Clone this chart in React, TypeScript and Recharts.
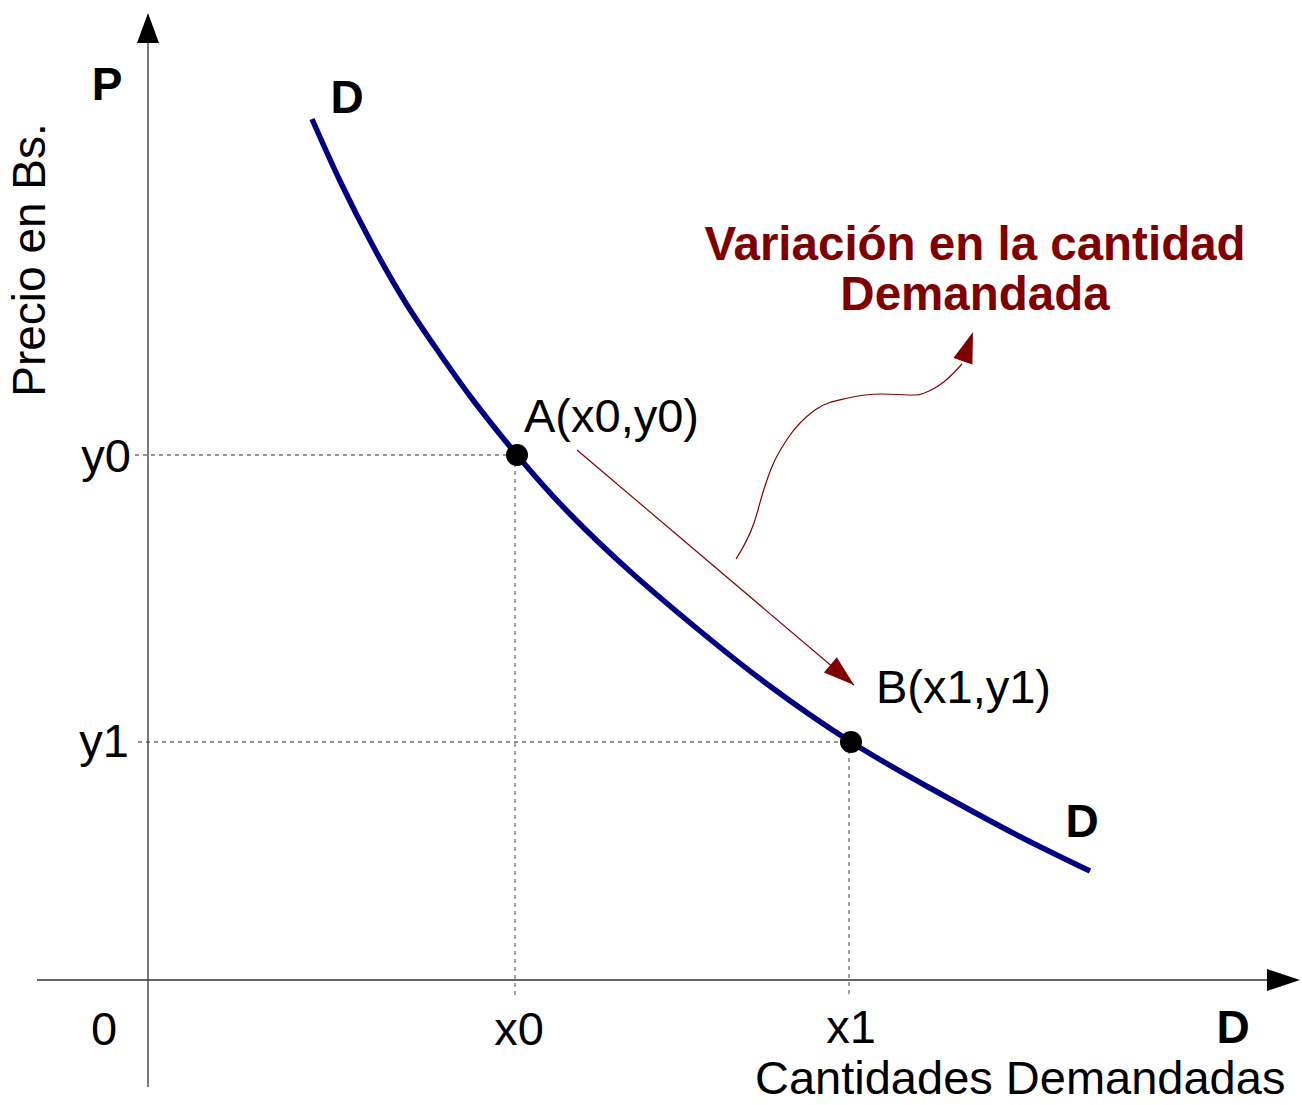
import { ComposedChart, Line, Scatter, ReferenceLine, XAxis, YAxis } from "recharts";

// quantity (q) and price (p) units; both axes use the same px per unit
const demandCurve = [
  { q: 16.4, p: 86.1 },
  { q: 19.2, p: 79.9 },
  { q: 22.5, p: 73.4 },
  { q: 25.9, p: 67.5 },
  { q: 29.2, p: 62.6 },
  { q: 32.5, p: 58.0 },
  { q: 36.9, p: 52.5 },
  { q: 41.9, p: 46.9 },
  { q: 48.5, p: 40.6 },
  { q: 55.2, p: 34.9 },
  { q: 61.9, p: 29.6 },
  { q: 70.3, p: 23.8 },
  { q: 78.2, p: 19.2 },
  { q: 86.5, p: 14.7 },
  { q: 94.2, p: 10.9 },
];

const pointA = { q: 36.9, p: 52.5 };
const pointB = { q: 70.3, p: 23.8 };
const points = [pointA, pointB];

const moveArrow = [
  { q: 42.9, p: 53.0 },
  { q: 70.6, p: 29.5 },
];

const noteArrow = [
  { q: 58.8, p: 42.1 },
  { q: 60.6, p: 45.7 },
  { q: 61.6, p: 49.1 },
  { q: 62.3, p: 51.1 },
  { q: 64.0, p: 54.2 },
  { q: 66.7, p: 57.0 },
  { q: 70.0, p: 58.2 },
  { q: 73.4, p: 58.6 },
  { q: 76.8, p: 58.5 },
  { q: 78.5, p: 59.1 },
  { q: 79.7, p: 59.9 },
  { q: 81.4, p: 61.6 },
];
const noteArrowTip = { q: 82.5, p: 64.8 };

const qAxis = { from: -11.1, to: 115.2 };
const pAxis = { from: -10.7, to: 96.7 };

const labels = [
  { q: -4.1, p: 88.0, text: "P", kind: "bold" },
  { q: 19.9, p: 86.7, text: "D", kind: "bold" },
  { q: 93.4, p: 14.3, text: "D", kind: "bold" },
  { q: 108.5, p: -6.3, text: "D", kind: "bold" },
  { q: -4.4, p: -6.5, text: "0", kind: "tick" },
  { q: 37.1, p: -6.5, text: "x0", kind: "tick" },
  { q: 70.3, p: -6.3, text: "x1", kind: "tick" },
  { q: -1.7, p: 50.8, text: "y0", kind: "yTick" },
  { q: -1.9, p: 22.3, text: "y1", kind: "yTick" },
  { q: 37.6, p: 54.8, text: "A(x0,y0)", kind: "point" },
  { q: 72.8, p: 27.7, text: "B(x1,y1)", kind: "point" },
  { q: -10.3, p: 72.0, text: "Precio en Bs.", kind: "yTitle" },
  { q: 60.7, p: -11.4, text: "Cantidades Demandadas", kind: "point" },
  { q: 82.7, p: 72.0, text: "Variación en la cantidad", kind: "note" },
  { q: 82.7, p: 67.0, text: "Demandada", kind: "note" },
];

const FONT = "'Liberation Sans', Arial, sans-serif";
const DARK_RED = "#800000";
const NAVY = "#000080";

const labelStyles: Record<string, any> = {
  bold: { fontSize: 46, fontWeight: 700, fill: "#000", anchor: "middle" },
  tick: { fontSize: 47, fontWeight: 400, fill: "#000", anchor: "middle" },
  yTick: { fontSize: 47, fontWeight: 400, fill: "#000", anchor: "end" },
  point: { fontSize: 47, fontWeight: 400, fill: "#000", anchor: "start" },
  yTitle: { fontSize: 46, fontWeight: 400, fill: "#000", anchor: "middle", rotate: -90 },
  note: { fontSize: 47.5, fontWeight: 700, fill: DARK_RED, anchor: "middle" },
};

function angleOf(from: { q: number; p: number }, to: { q: number; p: number }) {
  return Math.atan2(-(to.p - from.p), to.q - from.q);
}

const arrowHeads = [
  { q: 0, p: pAxis.to, angle: -Math.PI / 2, len: 30, half: 11, color: "#000" },
  { q: qAxis.to, p: 0, angle: 0, len: 33, half: 11, color: "#000" },
  { ...moveArrow[1], angle: angleOf(moveArrow[0], moveArrow[1]), len: 31, half: 10, color: DARK_RED },
  {
    ...noteArrowTip,
    angle: angleOf(noteArrow[noteArrow.length - 1], noteArrowTip),
    len: 31,
    half: 10,
    color: DARK_RED,
  },
];

function ArrowHead(props: any) {
  const { cx, cy, payload } = props;
  if (cx == null || cy == null) return null;
  const { angle, len, half, color } = payload;
  const bx = cx - len * Math.cos(angle);
  const by = cy - len * Math.sin(angle);
  const nx = -Math.sin(angle) * half;
  const ny = Math.cos(angle) * half;
  const pts = `${cx},${cy} ${bx + nx},${by + ny} ${bx - nx},${by - ny}`;
  return <polygon points={pts} fill={color} stroke="none" />;
}

function TextMark(props: any) {
  const { cx, cy, payload } = props;
  if (cx == null || cy == null) return null;
  const s = labelStyles[payload.kind];
  return (
    <text
      x={cx}
      y={cy}
      textAnchor={s.anchor}
      fontFamily={FONT}
      fontSize={s.fontSize}
      fontWeight={s.fontWeight}
      fill={s.fill}
      transform={s.rotate ? `rotate(${s.rotate} ${cx} ${cy})` : undefined}
    >
      {payload.text}
    </text>
  );
}

function Dot(props: any) {
  const { cx, cy } = props;
  if (cx == null || cy == null) return null;
  return <circle cx={cx} cy={cy} r={11} fill="#000" />;
}

const dashProps = { stroke: "#707070", strokeWidth: 1.3, strokeDasharray: "4 4", ifOverflow: "visible" as const };
const axisProps = { stroke: "#333", strokeWidth: 1.3, ifOverflow: "visible" as const };

export default function App() {
  return (
    <div style={{ position: "absolute", left: 0, top: 0, width: 1302, height: 1105, background: "#fff" }}>
      <ComposedChart width={1302} height={1105} margin={{ top: 0, right: 0, bottom: 0, left: 0 }}>
        <XAxis type="number" dataKey="q" domain={[-14.8, 115.4]} hide allowDataOverflow />
        <YAxis type="number" dataKey="p" domain={[-12.5, 98.0]} hide allowDataOverflow />

        <ReferenceLine segment={[{ x: -1.3, y: pointA.p }, { x: pointA.q, y: pointA.p }]} {...dashProps} />
        <ReferenceLine segment={[{ x: -1.0, y: pointB.p }, { x: pointB.q, y: pointB.p }]} {...dashProps} />
        <ReferenceLine segment={[{ x: pointA.q - 0.2, y: pointA.p }, { x: pointA.q - 0.2, y: -1.7 }]} {...dashProps} />
        <ReferenceLine segment={[{ x: pointB.q - 0.2, y: pointB.p }, { x: pointB.q - 0.2, y: -1.7 }]} {...dashProps} />

        <ReferenceLine segment={[{ x: 0, y: pAxis.from }, { x: 0, y: pAxis.to - 2 }]} {...axisProps} />
        <ReferenceLine segment={[{ x: qAxis.from, y: 0 }, { x: qAxis.to - 2, y: 0 }]} {...axisProps} />

        <Line
          data={demandCurve}
          dataKey="p"
          type="natural"
          stroke={NAVY}
          strokeWidth={5.5}
          dot={false}
          activeDot={false}
          isAnimationActive={false}
        />
        <Line
          data={moveArrow}
          dataKey="p"
          type="linear"
          stroke={DARK_RED}
          strokeWidth={1.2}
          dot={false}
          activeDot={false}
          isAnimationActive={false}
        />
        <Line
          data={noteArrow}
          dataKey="p"
          type="monotone"
          stroke={DARK_RED}
          strokeWidth={1.2}
          dot={false}
          activeDot={false}
          isAnimationActive={false}
        />

        <Scatter data={arrowHeads} dataKey="p" shape={ArrowHead} isAnimationActive={false} />
        <Scatter data={points} dataKey="p" shape={Dot} isAnimationActive={false} />
        <Scatter data={labels} dataKey="p" shape={TextMark} isAnimationActive={false} />
      </ComposedChart>
    </div>
  );
}
